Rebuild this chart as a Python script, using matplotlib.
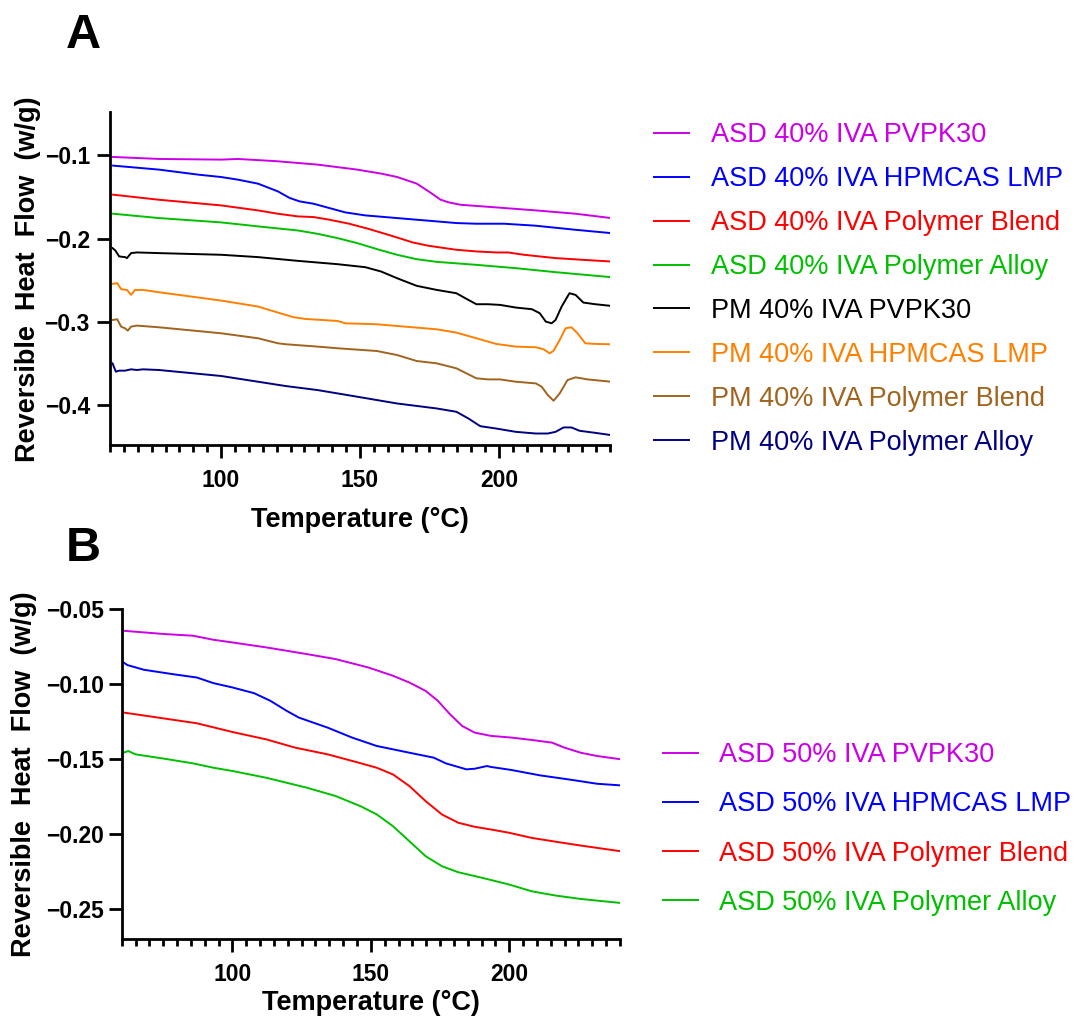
import numpy as np
import matplotlib.pyplot as plt
from matplotlib.ticker import FixedLocator, MultipleLocator

plt.rcParams['font.family'] = ['Liberation Sans', 'DejaVu Sans']

# ---- Panel A: 40% IVA (temperature in C, reversible heat flow in w/g) ----
t_asd40_pvp = [61.1, 77.6, 100, 106.1, 120.4, 134.7, 149, 157.6, 163.3, 170.4, 174.7, 179, 181.9, 186.1, 199, 213.3, 227.6, 240.4]
hf_asd40_pvp = [-0.102, -0.1044, -0.1052, -0.1044, -0.1072, -0.1112, -0.1172, -0.122, -0.126, -0.134, -0.1433, -0.1533, -0.1565, -0.1594, -0.1626, -0.1662, -0.1702, -0.1754]

t_asd40_hpm = [61.1, 77.6, 91.9, 100, 106.1, 113.3, 120.4, 124.7, 128.3, 133.3, 139, 144.7, 151.9, 163.3, 177.6, 184.7, 191.9, 201.9, 213.3, 227.6, 240.4]
hf_asd40_hpm = [-0.1124, -0.1172, -0.1233, -0.1261, -0.1293, -0.1341, -0.1433, -0.1513, -0.1554, -0.1582, -0.1634, -0.1686, -0.1722, -0.1754, -0.1794, -0.1814, -0.1822, -0.1822, -0.1846, -0.1895, -0.1935]

t_asd40_blend = [61.1, 77.6, 100, 113.3, 120.4, 127.6, 133.3, 139, 146.1, 153.3, 159, 163.3, 169, 174.7, 184.7, 191.9, 199, 203.3, 209, 220.4, 230.4, 240.4]
hf_asd40_blend = [-0.1473, -0.1534, -0.1602, -0.1662, -0.1702, -0.1734, -0.1742, -0.1774, -0.1822, -0.1886, -0.1943, -0.1987, -0.2047, -0.2087, -0.2135, -0.2155, -0.2167, -0.2167, -0.2195, -0.2235, -0.2256, -0.2276]

t_asd40_alloy = [61.1, 77.6, 100, 113.3, 127.6, 134.7, 141.9, 149, 156.1, 163.3, 170.4, 177.6, 191.9, 206.1, 220.4, 240.4]
hf_asd40_alloy = [-0.1702, -0.1754, -0.1806, -0.1854, -0.1903, -0.1943, -0.1995, -0.2055, -0.2127, -0.2195, -0.2248, -0.228, -0.2316, -0.2356, -0.2404, -0.2464]

t_pm40_pvp = [60.9, 61.9, 63.3, 65.4, 66.1, 67.6, 69.7, 77.6, 100, 113.3, 127.6, 141.9, 151.9, 157.6, 163.3, 170.4, 177.6, 184.7, 189, 191.9, 196.1, 200.4, 206.1, 211.9, 214.7, 216.9, 219, 220.4, 222.6, 225.4, 227.6, 230.4, 234.7, 240.4]
hf_pm40_pvp = [-0.2115, -0.2143, -0.2215, -0.2223, -0.2235, -0.2175, -0.2167, -0.2175, -0.2195, -0.2223, -0.2268, -0.2308, -0.2344, -0.2396, -0.2476, -0.2568, -0.2617, -0.2657, -0.2737, -0.2789, -0.2789, -0.2797, -0.2829, -0.2849, -0.2897, -0.2998, -0.3018, -0.2978, -0.2817, -0.2657, -0.2677, -0.2769, -0.2789, -0.2809]

t_pm40_hpm = [60.9, 62.6, 64, 66.1, 67.6, 69, 71.9, 77.6, 100, 113.3, 120.4, 126.1, 130.4, 141.9, 144.7, 156.1, 170.4, 177.6, 184.7, 191.9, 199, 206.1, 213.3, 216.1, 218.3, 219.7, 221.9, 224, 226.1, 228.3, 231.1, 234.7, 240.4]
hf_pm40_hpm = [-0.2544, -0.2536, -0.2608, -0.2617, -0.2677, -0.2617, -0.2617, -0.2645, -0.2745, -0.2817, -0.2889, -0.2945, -0.2966, -0.299, -0.3018, -0.303, -0.307, -0.309, -0.313, -0.3198, -0.3266, -0.3298, -0.3306, -0.333, -0.3379, -0.3347, -0.3218, -0.3078, -0.3066, -0.3138, -0.3258, -0.3266, -0.327]

t_pm40_blend = [60.9, 62.6, 64, 65.4, 66.4, 67.6, 69.7, 77.6, 100, 113.3, 120.4, 123.3, 134.7, 141.9, 156.1, 163.3, 170.4, 177.6, 184.7, 191.9, 196.1, 200.4, 206.1, 213.3, 215.4, 217.6, 219.7, 221.9, 224.7, 227.6, 231.9, 240.4]
hf_pm40_blend = [-0.2978, -0.297, -0.3058, -0.3078, -0.3106, -0.3058, -0.3046, -0.3066, -0.3138, -0.3198, -0.3258, -0.327, -0.3298, -0.3318, -0.3351, -0.3399, -0.3471, -0.3499, -0.3559, -0.3679, -0.3692, -0.3692, -0.372, -0.374, -0.378, -0.388, -0.3948, -0.386, -0.37, -0.3667, -0.3692, -0.372]

t_pm40_alloy = [60.9, 62.1, 63.3, 65.4, 67.6, 69.7, 71.9, 77.6, 100, 113.3, 123.3, 134.7, 149, 163.3, 177.6, 184.7, 189, 193.3, 199, 206.1, 213.3, 217.6, 220.4, 223.3, 226.1, 229, 234.7, 240.4]
hf_pm40_alloy = [-0.3499, -0.3599, -0.3587, -0.3587, -0.3571, -0.3579, -0.3571, -0.3579, -0.3651, -0.372, -0.3772, -0.382, -0.39, -0.3981, -0.4041, -0.4081, -0.4161, -0.4254, -0.4282, -0.4322, -0.4342, -0.4342, -0.4322, -0.4269, -0.4269, -0.4309, -0.4334, -0.4361]

labels_a = ['ASD 40% IVA PVPK30', 'ASD 40% IVA HPMCAS LMP', 'ASD 40% IVA Polymer Blend',
            'ASD 40% IVA Polymer Alloy', 'PM 40% IVA PVPK30', 'PM 40% IVA HPMCAS LMP',
            'PM 40% IVA Polymer Blend', 'PM 40% IVA Polymer Alloy']
colors_a = ['#CC00E6', '#0000FF', '#FF0000', '#00C000', '#000000', '#FF8000', '#A0641E', '#000080']
yticks_a = [-0.4, -0.3, -0.2, -0.1]
yticklabels_a = ['\u22120.4', '\u22120.3', '\u22120.2', '\u22120.1']

# ---- Panel B: 50% IVA ----
t_asd50_pvp = [60.6, 75.4, 85.7, 93.1, 100, 112.2, 127, 137.3, 149.1, 158, 163.9, 169.8, 174.2, 178.6, 183, 187.5, 193.4, 200.7, 208.1, 215.5, 219.9, 225.8, 231.7, 240.3]
hf_asd50_pvp = [-0.0645, -0.0667, -0.0678, -0.0705, -0.0723, -0.0756, -0.0801, -0.0834, -0.089, -0.0945, -0.099, -0.1046, -0.1112, -0.1202, -0.128, -0.1324, -0.1346, -0.1357, -0.1373, -0.1391, -0.1424, -0.1458, -0.148, -0.1502]

t_asd50_hpm = [60.6, 62.1, 68, 78.3, 87.2, 93.1, 100, 107.8, 113.7, 119.6, 124, 134.4, 143.2, 152.1, 163.9, 172.7, 177.1, 184.5, 187.5, 191.9, 193.4, 200.7, 211.1, 222.9, 231.7, 240.3]
hf_asd50_hpm = [-0.0856, -0.0874, -0.0905, -0.0934, -0.0957, -0.0994, -0.1023, -0.1061, -0.1112, -0.1179, -0.1224, -0.1291, -0.1357, -0.1413, -0.1458, -0.1491, -0.1529, -0.1569, -0.1565, -0.1547, -0.1553, -0.1573, -0.1609, -0.164, -0.1665, -0.1676]

t_asd50_blend = [60.6, 75.4, 87.2, 100, 112.2, 122.6, 134.4, 144.7, 152.1, 158, 163.9, 169.8, 175.7, 181.6, 187.5, 193.4, 200, 208.1, 217, 225.8, 240.3]
hf_asd50_blend = [-0.119, -0.123, -0.1262, -0.132, -0.1369, -0.1424, -0.1469, -0.152, -0.1558, -0.1603, -0.168, -0.1781, -0.187, -0.1925, -0.1952, -0.197, -0.1992, -0.2026, -0.2052, -0.2077, -0.2115]

t_asd50_alloy = [60.6, 62.4, 65, 75.4, 85.7, 93.1, 100, 112.2, 127, 137.3, 146.2, 152.1, 158, 163.9, 169.8, 175.7, 181.6, 190.4, 200, 208.1, 217, 225.8, 240.3]
hf_asd50_alloy = [-0.1458, -0.1447, -0.1469, -0.1498, -0.1529, -0.1558, -0.158, -0.1625, -0.1692, -0.1747, -0.1814, -0.1869, -0.1948, -0.2048, -0.2148, -0.2215, -0.2255, -0.2293, -0.2337, -0.2382, -0.2411, -0.2433, -0.246]

labels_b = ['ASD 50% IVA PVPK30', 'ASD 50% IVA HPMCAS LMP', 'ASD 50% IVA Polymer Blend', 'ASD 50% IVA Polymer Alloy']
colors_b = ['#CC00E6', '#0000FF', '#FF0000', '#00C000']
yticks_b = [-0.25, -0.20, -0.15, -0.10, -0.05]
yticklabels_b = ['\u22120.25', '\u22120.20', '\u22120.15', '\u22120.10', '\u22120.05']

xticks = [100, 150, 200]

series_a = [(t_asd40_pvp, hf_asd40_pvp), (t_asd40_hpm, hf_asd40_hpm), (t_asd40_blend, hf_asd40_blend),
            (t_asd40_alloy, hf_asd40_alloy), (t_pm40_pvp, hf_pm40_pvp), (t_pm40_hpm, hf_pm40_hpm),
            (t_pm40_blend, hf_pm40_blend), (t_pm40_alloy, hf_pm40_alloy)]
series_b = [(t_asd50_pvp, hf_asd50_pvp), (t_asd50_hpm, hf_asd50_hpm),
            (t_asd50_blend, hf_asd50_blend), (t_asd50_alloy, hf_asd50_alloy)]

W, H = 1076, 1027
fig = plt.figure(figsize=(W / 100, H / 100), dpi=100)

def px_axes(left, top, right, bottom):
    return fig.add_axes([left / W, 1 - bottom / H, (right - left) / W, (bottom - top) / H])

def style(ax, yticks, ylabels, ylim, ypad):
    ax.set_xlim(60, 240)
    ax.set_ylim(*ylim)
    for s in ['top', 'right']:
        ax.spines[s].set_visible(False)
    for s in ['left', 'bottom']:
        ax.spines[s].set_linewidth(2.0)
    ax.xaxis.set_major_locator(FixedLocator(xticks))
    ax.xaxis.set_minor_locator(MultipleLocator(5))
    ax.yaxis.set_major_locator(FixedLocator(yticks))
    ax.set_yticklabels(ylabels)
    ax.tick_params(axis='x', which='major', length=9.5, width=2.0, pad=8, labelsize=16.5)
    ax.tick_params(axis='x', which='minor', length=5, width=2.0)
    ax.tick_params(axis='y', which='major', length=9.5, width=2.0, pad=ypad, labelsize=16.5)
    for lab in ax.get_xticklabels() + ax.get_yticklabels():
        lab.set_fontweight('bold')

ax_a = px_axes(110, 112, 610, 445)
for (t, hf), lab, c in zip(series_a, labels_a, colors_a):
    ax_a.plot(t, hf, color=c, lw=1.4, label=lab)
style(ax_a, yticks_a, yticklabels_a, (-0.448, -0.048), 5)

ax_b = px_axes(121.7, 609, 620, 939)
for (t, hf), lab, c in zip(series_b, labels_b, colors_b):
    ax_b.plot(t, hf, color=c, lw=1.4, label=lab)
style(ax_b, yticks_b, yticklabels_b, (-0.27, -0.05), 3.5)

ylab = 'Reversible  Heat  Flow  (w/g)'
fig.text(28 / W, 1 - 279 / H, ylab, rotation=90, ha='center', va='center', fontsize=19.5, fontweight='bold')
fig.text(24 / W, 1 - 774 / H, ylab, rotation=90, ha='center', va='center', fontsize=19.5, fontweight='bold')
fig.text(360 / W, 1 - 520 / H, 'Temperature (\u00b0C)', ha='center', va='center', fontsize=19.5, fontweight='bold')
fig.text(371 / W, 1 - 1003 / H, 'Temperature (\u00b0C)', ha='center', va='center', fontsize=19.5, fontweight='bold')

fig.text(66 / W, 1 - 48 / H, 'A', ha='left', va='baseline', fontsize=35, fontweight='bold')
fig.text(66 / W, 1 - 561 / H, 'B', ha='left', va='baseline', fontsize=35, fontweight='bold')

leg_a = fig.legend(*ax_a.get_legend_handles_labels(), loc='center left', bbox_to_anchor=(654 / W, 1 - 289 / H),
                   frameon=False, fontsize=19.5, labelcolor='linecolor', handlelength=1.3,
                   handletextpad=0.8, labelspacing=0.66, borderpad=0, borderaxespad=0)
leg_b = fig.legend(*ax_b.get_legend_handles_labels(), loc='center left', bbox_to_anchor=(663 / W, 1 - 829 / H),
                   frameon=False, fontsize=19.5, labelcolor='linecolor', handlelength=1.3,
                   handletextpad=0.75, labelspacing=0.86, borderpad=0, borderaxespad=0)

fig.savefig('out.png', dpi=100)
